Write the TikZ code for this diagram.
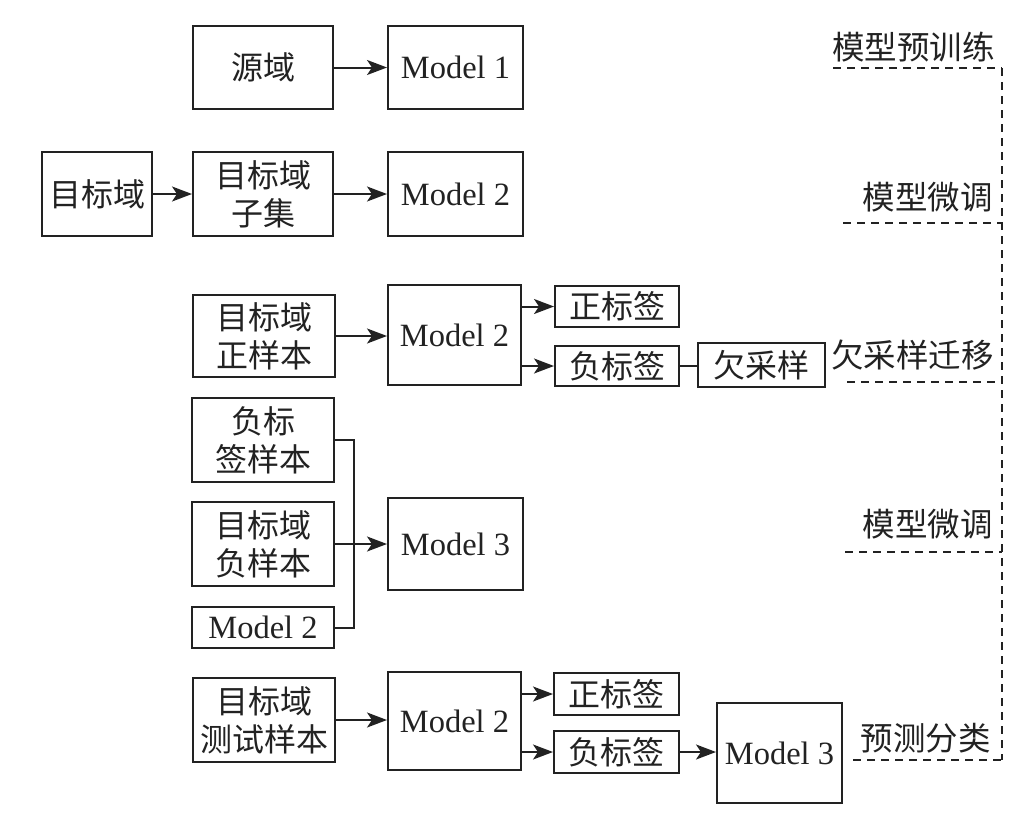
\documentclass[tikz,border=0pt]{standalone}
\usepackage{fontspec}
\setmainfont{Liberation Serif}
\newfontfamily\cjk{Noto Sans CJK SC}
\usetikzlibrary{arrows.meta}
\definecolor{ink}{HTML}{222222}
\tikzset{
  box/.style={draw=ink, line width=2pt, inner sep=0pt, align=center, text=ink,
    font=\fontsize{32}{38}\selectfont\cjk},
  mbox/.style={box, font=\fontsize{32.5}{38}\selectfont},
  arr/.style={draw=ink, line width=2pt, -{Stealth[length=20pt,width=15pt,inset=5pt]}},
  ln/.style={draw=ink, line width=2pt},
  dsh/.style={draw=ink, line width=2pt, dash pattern=on 8pt off 6pt},
  lab/.style={inner sep=0pt, anchor=east, text=ink, font=\fontsize{32.5}{38}\selectfont\cjk}
}
\begin{document}
\begin{tikzpicture}[x=1pt,y=-1pt]
\useasboundingbox (0,0) rectangle (1022,835);
% row 1
\node[box, minimum width=140pt, minimum height=83pt] (src) at (263,67.5) {源域};
\node[mbox, minimum width=135pt, minimum height=83pt] (m1) at (455.5,67.5) {Model 1};
% row 2
\node[box, minimum width=110pt, minimum height=84pt] (tgt) at (97,194) {目标域};
\node[box, minimum width=140pt, minimum height=84pt] (sub) at (263,194) {目标域\\子集};
\node[mbox, minimum width=135pt, minimum height=84pt] (m2a) at (455.5,194) {Model 2};
% row 3
\node[box, minimum width=142pt, minimum height=82pt] (pos) at (264,336) {目标域\\正样本};
\node[mbox, minimum width=133pt, minimum height=100pt] (m2b) at (454.5,335) {Model 2};
\node[box, minimum width=124pt, minimum height=41pt] (pl1) at (617,306.5) {正标签};
\node[box, minimum width=124pt, minimum height=40pt] (nl1) at (617,366) {负标签};
\node[box, minimum width=127pt, minimum height=44pt] (us) at (761.5,365) {欠采样};
% row 4
\node[box, minimum width=142pt, minimum height=84pt] (nls) at (263,440) {负标\\签样本};
\node[box, minimum width=142pt, minimum height=84pt] (tns) at (263,544) {目标域\\负样本};
\node[mbox, minimum width=142pt, minimum height=41pt] (m2s) at (263,627.5) {Model 2};
\node[mbox, minimum width=135pt, minimum height=92pt] (m3a) at (455.5,544) {Model 3};
\coordinate (bx) at (354,544);
% row 5
\node[box, minimum width=142pt, minimum height=84pt] (test) at (264,720) {目标域\\测试样本};
\node[mbox, minimum width=133pt, minimum height=98pt] (m2c) at (454.5,721) {Model 2};
\node[box, minimum width=125pt, minimum height=42pt] (pl2) at (616.5,694) {正标签};
\node[box, minimum width=125pt, minimum height=42pt] (nl2) at (616.5,752) {负标签};
\node[mbox, minimum width=125pt, minimum height=100pt] (m3b) at (779.5,753) {Model 3};
% connectors
\draw[arr] (src.east) -- (m1.west);
\draw[arr] (tgt.east) -- (sub.west);
\draw[arr] (sub.east) -- (m2a.west);
\draw[arr] (pos.east) -- (pos.east -| m2b.west);
\draw[arr] (m2b.east |- pl1.west) -- (pl1.west);
\draw[arr] (m2b.east |- nl1.west) -- (nl1.west);
\draw[ln] (nl1.east) -- (nl1.east -| us.west);
\draw[ln] (nls.east) -- (nls.east -| bx) -- (m2s.east -| bx) -- (m2s.east);
\draw[arr] (tns.east) -- (m3a.west);
\draw[arr] (test.east) -- (test.east -| m2c.west);
\draw[arr] (m2c.east |- pl2.west) -- (pl2.west);
\draw[arr] (m2c.east |- nl2.west) -- (nl2.west);
\draw[arr] (nl2.east) -- (nl2.east -| m3b.west);
% right labels
\node[lab] (l1) at (995,47) {模型预训练};
\node[lab] (l2) at (993,197) {模型微调};
\node[lab] (l3) at (994,355) {欠采样迁移};
\node[lab] (l4) at (993,524) {模型微调};
\node[lab] (l5) at (991,738) {预测分类};
\coordinate (v1) at (1002,68);
\coordinate (v5) at (1002,760);
\draw[dsh] (833,68) -- (v1);
\draw[dsh] (843,223) -- (1002,223);
\draw[dsh] (847,382) -- (1002,382);
\draw[dsh] (845,552) -- (1002,552);
\draw[dsh] (853,760) -- (v5);
\draw[dsh] (v1) -- (v5);
\end{tikzpicture}
\end{document}
